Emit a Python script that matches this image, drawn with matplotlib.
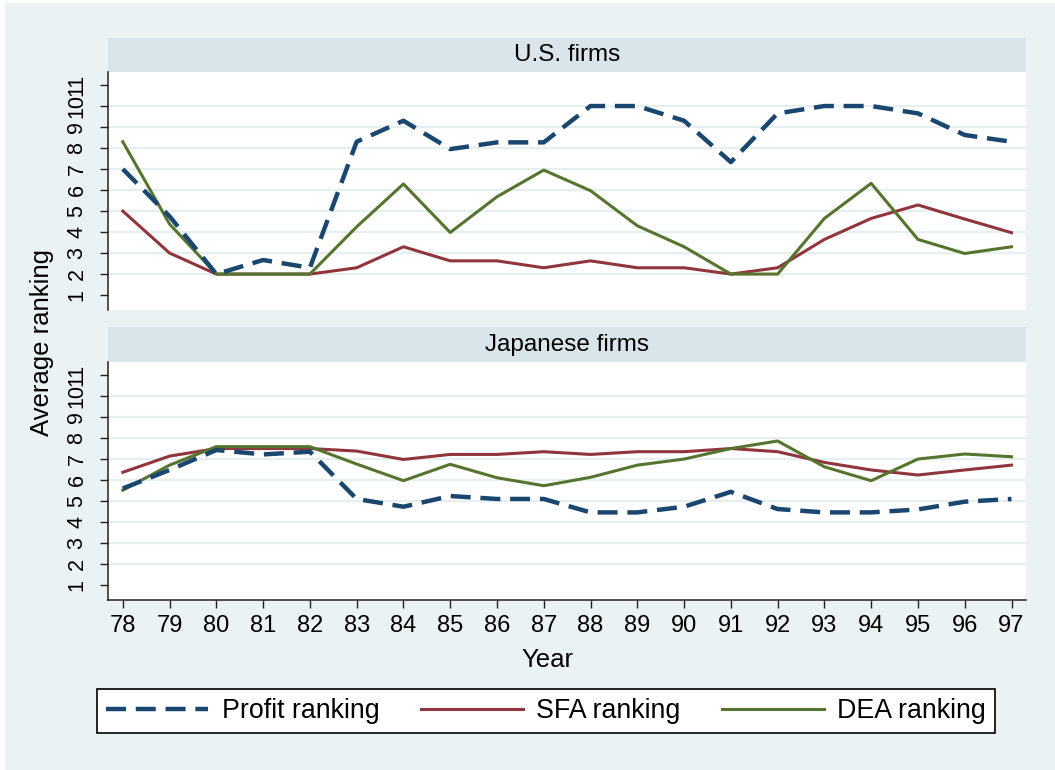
import matplotlib
matplotlib.use("Agg")
import matplotlib.pyplot as plt
from matplotlib.patches import Rectangle
from matplotlib.lines import Line2D

plt.rcParams['font.family'] = ['Liberation Sans', 'DejaVu Sans']

years = list(range(78, 98))
year_labels = [str(y) for y in years]
rank_ticks = list(range(1, 12))

us_profit = [7.0, 4.75, 2.0, 2.67, 2.3, 8.3, 9.3, 7.95, 8.27, 8.27,
             10.0, 10.0, 9.3, 7.33, 9.65, 10.0, 10.0, 9.65, 8.62, 8.3]
us_sfa = [5.0, 3.0, 2.0, 2.0, 2.0, 2.3, 3.3, 2.63, 2.63, 2.3,
          2.63, 2.3, 2.3, 2.0, 2.3, 3.65, 4.65, 5.29, 4.62, 3.97]
us_dea = [8.3, 4.38, 2.0, 2.0, 2.0, 4.25, 6.29, 3.98, 5.68, 6.95,
          5.97, 4.3, 3.3, 2.0, 2.0, 4.65, 6.32, 3.65, 2.98, 3.3]

jp_profit = [5.6, 6.48, 7.43, 7.22, 7.35, 5.1, 4.73, 5.24, 5.1, 5.1,
             4.46, 4.46, 4.73, 5.44, 4.62, 4.46, 4.46, 4.6, 4.97, 5.1]
jp_sfa = [6.37, 7.14, 7.5, 7.5, 7.5, 7.38, 6.98, 7.22, 7.22, 7.35,
          7.22, 7.35, 7.35, 7.5, 7.35, 6.84, 6.48, 6.24, 6.48, 6.71]
jp_dea = [5.52, 6.71, 7.59, 7.59, 7.59, 6.76, 5.97, 6.75, 6.11, 5.73,
          6.13, 6.71, 7.0, 7.5, 7.86, 6.63, 5.97, 7.0, 7.24, 7.11]

panels = [("U.S. firms", us_profit, us_sfa, us_dea),
          ("Japanese firms", jp_profit, jp_sfa, jp_dea)]

C_PROFIT = '#1A476F'
C_SFA = '#90353B'
C_DEA = '#55752F'
BG = '#EAF2F3'
STRIP = '#D9E5EA'
GRID = '#E6EEF0'

W, H = 1055, 770
fig = plt.figure(figsize=(W / 100, H / 100), dpi=100, facecolor='white')
fig.patches.append(Rectangle((5 / W, 0), 1 - 5 / W, 1 - 3 / H, transform=fig.transFigure,
                             facecolor=BG, edgecolor='none', zorder=-10))

left = 108.3 / W
width = (1026 - 108.3) / W
ph = 238 / H
ax_bottoms = [1 - 310 / H, 1 - 600 / H]
strip_rects = [(38, 72), (327, 362)]

profit_dash = (0, (4.5, 2.2))
axes = []
for i, (title, prof, sfa, dea) in enumerate(panels):
    ax = fig.add_axes([left, ax_bottoms[i], width, ph])
    ax.set_facecolor('white')
    ax.set_xlim(77.69, 97.31)
    ax.set_ylim(0.29, 11.62)
    for g in rank_ticks[1:-1]:
        ax.axhline(g, color=GRID, lw=1.6, zorder=0)
    ax.plot(years, sfa, color=C_SFA, lw=2.2, zorder=3)
    ax.plot(years, dea, color=C_DEA, lw=2.2, zorder=3)
    ax.plot(years, prof, color=C_PROFIT, lw=3.2, linestyle=profit_dash, zorder=4)
    ax.set_yticks(rank_ticks)
    ax.set_yticklabels([str(t) for t in rank_ticks], rotation=90, va='center', fontsize=15.5)
    ax.tick_params(axis='y', length=6, width=1, pad=9, colors='#222222', labelcolor='black')
    for s in ['top', 'right']:
        ax.spines[s].set_visible(False)
    ax.spines['left'].set_color('#222222')
    ax.spines['left'].set_linewidth(1.1)
    if i == 0:
        ax.spines['bottom'].set_visible(False)
        ax.set_xticks([])
    else:
        ax.spines['bottom'].set_color('#222222')
        ax.spines['bottom'].set_linewidth(1.1)
        ax.set_xticks(years)
        ax.set_xticklabels(year_labels, fontsize=17)
        ax.tick_params(axis='x', length=6, width=1, pad=5, colors='#222222', labelcolor='black')
    y0, y1 = strip_rects[i]
    fig.patches.append(Rectangle((left, 1 - y1 / H), width, (y1 - y0) / H,
                                 transform=fig.transFigure, facecolor=STRIP,
                                 edgecolor='none', zorder=-5))
    fig.text(left + width / 2, 1 - ((y0 + y1) / 2) / H, title, ha='center', va='center',
             fontsize=17.5)
    axes.append(ax)

fig.text(42 / W, 1 - 343 / H, 'Average ranking', rotation=90, ha='center', va='center',
         fontsize=18.5)
fig.text(547 / W, 1 - 660 / H, 'Year', ha='center', va='center', fontsize=18.5)

handles = [Line2D([], [], color=C_PROFIT, lw=3.2, linestyle=profit_dash),
           Line2D([], [], color=C_SFA, lw=2.2),
           Line2D([], [], color=C_DEA, lw=2.2)]
labels = ['Profit ranking', 'SFA ranking', 'DEA ranking']
leg = fig.legend(handles, labels, loc='center', ncol=3,
                 bbox_to_anchor=(546 / W, 1 - 711 / H), fontsize=19.3,
                 handlelength=3.8, handletextpad=0.5, columnspacing=1.55,
                 fancybox=False, framealpha=1, edgecolor='black', borderpad=0.35,
                 borderaxespad=0)
leg.get_frame().set_linewidth(1.2)

fig.savefig('out.png', dpi=100, facecolor=fig.get_facecolor())
